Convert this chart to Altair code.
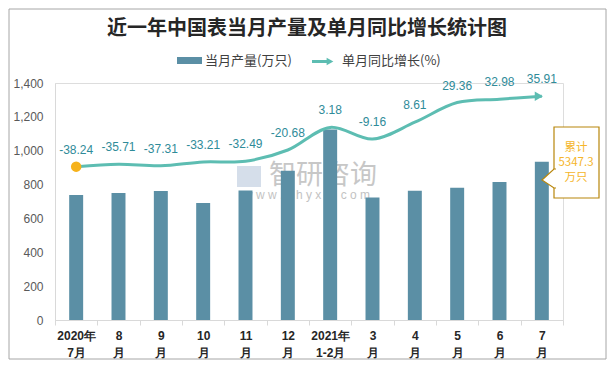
import altair as alt
import pandas as pd

months = ["2020年|7月", "8|月", "9|月", "10|月", "11|月", "12|月",
          "2021年|1-2月", "3|月", "4|月", "5|月", "6|月", "7|月"]
production = [738, 750, 762, 691, 765, 882, 1126, 723, 764, 781, 815, 935]
growth = [-38.24, -35.71, -37.31, -33.21, -32.49, -20.68,
          3.18, -9.16, 8.61, 29.36, 32.98, 35.91]
y_ticks = [0, 200, 400, 600, 800, 1000, 1200, 1400]

df = pd.DataFrame({
    "month": months,
    "production": production,
    "growth": growth,
    "glabel": [f"{g:.2f}" for g in growth],
})

BAR = "#5b8fa5"
LINE = "#5dbdb2"
LBL = "#2f8b99"
GOLD = "#b8860b"
ORANGE = "#f5b52a"
SANS = "Noto Sans CJK SC"
NUM = "Liberation Sans"

one = pd.DataFrame({"a": [0]})

xplain = alt.X("month:N", sort=None, title=None)

# chart border
border = alt.Chart(one).mark_rect(fillOpacity=0, stroke="#a6a6a6", strokeWidth=1).encode(
    x=alt.value(-46), x2=alt.value(551), y=alt.value(-74), y2=alt.value(276))

# watermark
wm1 = alt.Chart(one).mark_text(font=SANS, fontSize=27, color="#9a9a9a", opacity=0.55,
                               baseline="middle", align="center").encode(
    x=alt.value(268), y=alt.value(93), text=alt.value("智研咨询"))
wm2 = alt.Chart(one).mark_text(font=NUM, fontSize=12, color="#9a9a9a", opacity=0.6,
                               baseline="middle", align="center").encode(
    x=alt.value(252), y=alt.value(112), text=alt.value("w w w . c h y x x . c o m"))
wm_logo = alt.Chart(one).mark_rect(color="#b9c8dc", opacity=0.6).encode(
    x=alt.value(182), x2=alt.value(206), y=alt.value(83), y2=alt.value(104))

bars = alt.Chart(df).mark_bar(color=BAR, width=alt.RelativeBandSize(0.33)).encode(
    x=alt.X("month:N", sort=None, title=None,
            scale=alt.Scale(paddingInner=0, paddingOuter=0),
            axis=alt.Axis(labelAngle=0,
                          labelExpr="isValid(datum.value) ? split(datum.value, '|') : ''",
                          labelFont=NUM, labelFontWeight="bold", labelFontSize=12,
                          labelColor="#262626", labelPadding=5, labelLineHeight=17,
                          domainColor="#d9d9d9", tickColor="#d9d9d9",
                          tickBand="extent", tickSize=5)),
    y=alt.Y("production:Q", title=None,
            scale=alt.Scale(domain=[0, 1400], nice=False),
            axis=alt.Axis(values=y_ticks, format=",.0f", ticks=False, grid=False,
                          domainColor="#d9d9d9", labelColor="#595959",
                          labelFont=NUM, labelFontSize=12, labelPadding=12)),
)

ly = alt.Y("growth:Q", title=None, scale=alt.Scale(domain=[-200, 50], nice=False), axis=None)

line = alt.Chart(df).mark_line(color=LINE, strokeWidth=3, interpolate="catmull-rom").encode(
    x=xplain, y=ly)

first_pt = alt.Chart(df).transform_filter(alt.datum.month == months[0]).mark_point(
    filled=True, color="#f6b21b", size=110, opacity=1).encode(x=xplain, y=ly)

arrow = alt.Chart(df).transform_filter(alt.datum.month == months[-1]).mark_point(
    filled=True, color=LINE, shape="triangle-right", size=90, opacity=1, xOffset=-3).encode(
    x=xplain, y=ly)

labels = alt.Chart(df).mark_text(font=NUM, fontSize=12, color=LBL, dy=-17,
                                 baseline="middle").encode(
    x=xplain, y=ly, text="glabel:N")

# callout box
box = alt.Chart(one).mark_rect(fill="white", stroke=GOLD, strokeWidth=1.2).encode(
    x=alt.value(499), x2=alt.value(544), y=alt.value(44), y2=alt.value(115))
pointer = alt.Chart(one).mark_point(
    shape="M 0.2 -0.95 L 0 -0.95 L -1.2 0.15 L 0 0.95 L 0.2 0.95",
    fill="white", fillOpacity=1, stroke=GOLD, strokeWidth=1.2, size=400, opacity=1).encode(
    x=alt.value(499), y=alt.value(95.5))
call_lines = ["累计", "5347.3", "万只"]
call_ys = [65, 80, 95]
call_txt = [alt.Chart(one).mark_text(font=SANS, fontSize=11.5, color=ORANGE,
                                     align="center", baseline="middle").encode(
    x=alt.value(521), y=alt.value(yv), text=alt.value(t)) for t, yv in zip(call_lines, call_ys)]

# title
title = alt.Chart(one).mark_text(font=SANS, fontSize=20, fontWeight="bold", color="#262626",
                                 align="center", baseline="middle").encode(
    x=alt.value(252), y=alt.value(-54), text=alt.value("近一年中国表当月产量及单月同比增长统计图"))

# legend
leg_bar = alt.Chart(one).mark_rect(color=BAR).encode(
    x=alt.value(122), x2=alt.value(147), y=alt.value(-26), y2=alt.value(-19))
leg_t1 = alt.Chart(one).mark_text(font=SANS, fontSize=13, color="#404040",
                                  align="left", baseline="middle").encode(
    x=alt.value(150), y=alt.value(-22), text=alt.value("当月产量(万只)"))
leg_line = alt.Chart(one).mark_rule(color=LINE, strokeWidth=3).encode(
    x=alt.value(257), x2=alt.value(274), y=alt.value(-21.5))
leg_arrow = alt.Chart(one).mark_point(filled=True, color=LINE, shape="triangle-right",
                                      size=60, opacity=1).encode(
    x=alt.value(275), y=alt.value(-21.5))
leg_t2 = alt.Chart(one).mark_text(font=SANS, fontSize=13, color="#404040",
                                  align="left", baseline="middle").encode(
    x=alt.value(287), y=alt.value(-22), text=alt.value("单月同比增长(%)"))

chart = alt.layer(
    border, wm_logo, wm1, wm2, bars, line, first_pt, arrow, labels,
    box, pointer, *call_txt, title, leg_bar, leg_t1, leg_line, leg_arrow, leg_t2
).resolve_scale(y="independent").properties(
    width=508, height=237,
    autosize=alt.AutoSizeParams(type="none"),
    padding={"left": 47, "top": 75, "right": 44, "bottom": 40},
).configure_view(stroke=None).configure(background="white")

chart.save("out.html", embed_options={"renderer": "svg", "actions": False})
